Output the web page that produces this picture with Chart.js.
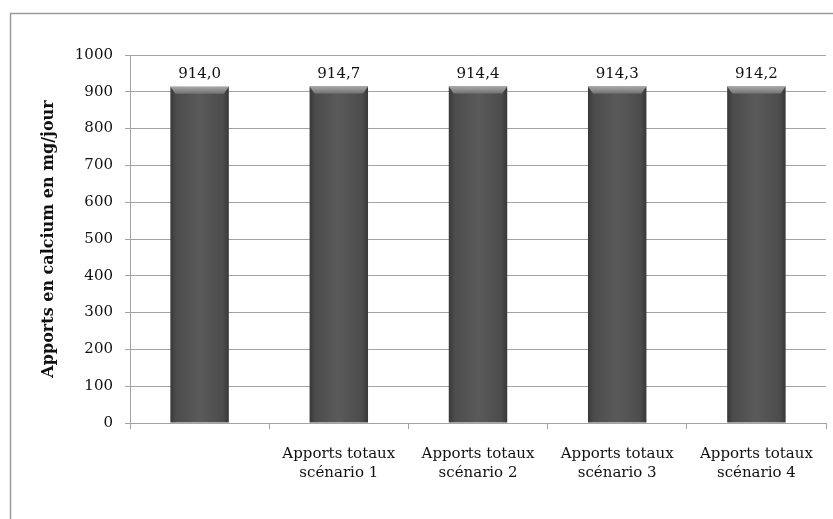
<!DOCTYPE html>
<html>
<head>
<meta charset="utf-8">
<script src="https://cdn.jsdelivr.net/npm/chart.js@4.4.1/dist/chart.umd.min.js"></script>
<style>
  html, body { margin: 0; padding: 0; background: #ffffff; }
  #wrap { width: 833px; height: 519px; position: relative; }
</style>
</head>
<body>
<div id="wrap"><canvas id="c" width="833" height="519"></canvas></div>
<script>
// Categories (first column has no label)
const categories = [
  '',
  ['Apports totaux', 'scénario 1'],
  ['Apports totaux', 'scénario 2'],
  ['Apports totaux', 'scénario 3'],
  ['Apports totaux', 'scénario 4']
];
// Total calcium intake, mg/day
const calcium = [914.0, 914.7, 914.4, 914.3, 914.2];
const yTitle = 'Apports en calcium en mg/jour';

const FONT = '"DejaVu Serif", "Liberation Serif", serif';
const GRID = '#a3a3a3';

// Outer frame of the chart
const framePlugin = {
  id: 'frame',
  beforeDraw(chart) {
    const ctx = chart.ctx;
    ctx.save();
    ctx.strokeStyle = '#9a9a9a';
    ctx.lineWidth = 1.5;
    ctx.strokeRect(10.5, 13.5, 900, 600);
    ctx.restore();
  }
};

// Bevelled top on each bar plus its value label above
const barDecor = {
  id: 'barDecor',
  afterDatasetsDraw(chart) {
    const ctx = chart.ctx;
    const meta = chart.getDatasetMeta(0);
    ctx.save();
    meta.data.forEach((bar, i) => {
      const w = bar.width;
      const l = bar.x - w / 2, r = bar.x + w / 2, t = bar.y;
      const g = ctx.createLinearGradient(0, t, 0, t + 8);
      g.addColorStop(0, '#a8a8a8');
      g.addColorStop(1, '#6a6a6a');
      ctx.fillStyle = g;
      ctx.beginPath();
      ctx.moveTo(l, t);
      ctx.lineTo(r, t);
      ctx.lineTo(r - 5, t + 7);
      ctx.lineTo(l + 5, t + 7);
      ctx.closePath();
      ctx.fill();

      ctx.fillStyle = '#111111';
      ctx.font = '15px ' + FONT;
      ctx.textAlign = 'center';
      ctx.textBaseline = 'bottom';
      ctx.fillText(calcium[i].toFixed(1).replace('.', ','), bar.x, t - 5);
    });
    ctx.restore();
  }
};

// Horizontal shading across each bar (cylinder look)
function barFill(c) {
  const el = c.element;
  if (!el || !isFinite(el.x) || !isFinite(el.width) || el.width <= 0) return '#555555';
  const l = el.x - el.width / 2, r = el.x + el.width / 2;
  const g = c.chart.ctx.createLinearGradient(l, 0, r, 0);
  g.addColorStop(0, '#383838');
  g.addColorStop(0.1, '#4c4c4c');
  g.addColorStop(0.5, '#5a5a5a');
  g.addColorStop(0.9, '#4c4c4c');
  g.addColorStop(1, '#383838');
  return g;
}

const chart = new Chart(document.getElementById('c'), {
  type: 'bar',
  data: {
    labels: categories,
    datasets: [{
      data: calcium,
      backgroundColor: barFill,
      borderWidth: 0,
      barPercentage: 0.42,
      categoryPercentage: 1.0
    }]
  },
  options: {
    responsive: false,
    animation: false,
    devicePixelRatio: 1,
    layout: { padding: { top: 55, right: 7, left: 36, bottom: 0 } },
    plugins: {
      legend: { display: false },
      tooltip: { enabled: false }
    },
    scales: {
      x: {
        grid: {
          display: true,
          drawOnChartArea: false,
          drawTicks: true,
          tickLength: 6,
          color: GRID,
          offset: true
        },
        border: { display: true, color: GRID, width: 1 },
        ticks: {
          color: '#111111',
          font: { family: FONT, size: 15, lineHeight: 1.3 },
          maxRotation: 0,
          autoSkip: false,
          padding: 15
        },
        afterFit(scale) { scale.height = 519 - 423; }
      },
      y: {
        min: 0,
        max: 1000,
        ticks: {
          stepSize: 100,
          color: '#111111',
          font: { family: FONT, size: 15 },
          padding: 12,
          callback: (v) => String(v)
        },
        grid: {
          color: GRID,
          tickLength: 5,
          drawTicks: true
        },
        border: { display: true, color: GRID, width: 1 },
        title: {
          display: true,
          text: yTitle,
          color: '#111111',
          font: { family: FONT, size: 16, weight: 'bold' },
          padding: { top: 3, bottom: 0 }
        },
        afterFit(scale) { scale.width = 130 - 36; }
      }
    }
  },
  plugins: [framePlugin, barDecor]
});
// second pass so the bar shading can use the laid-out bar geometry
chart.update('none');
</script>
</body>
</html>
